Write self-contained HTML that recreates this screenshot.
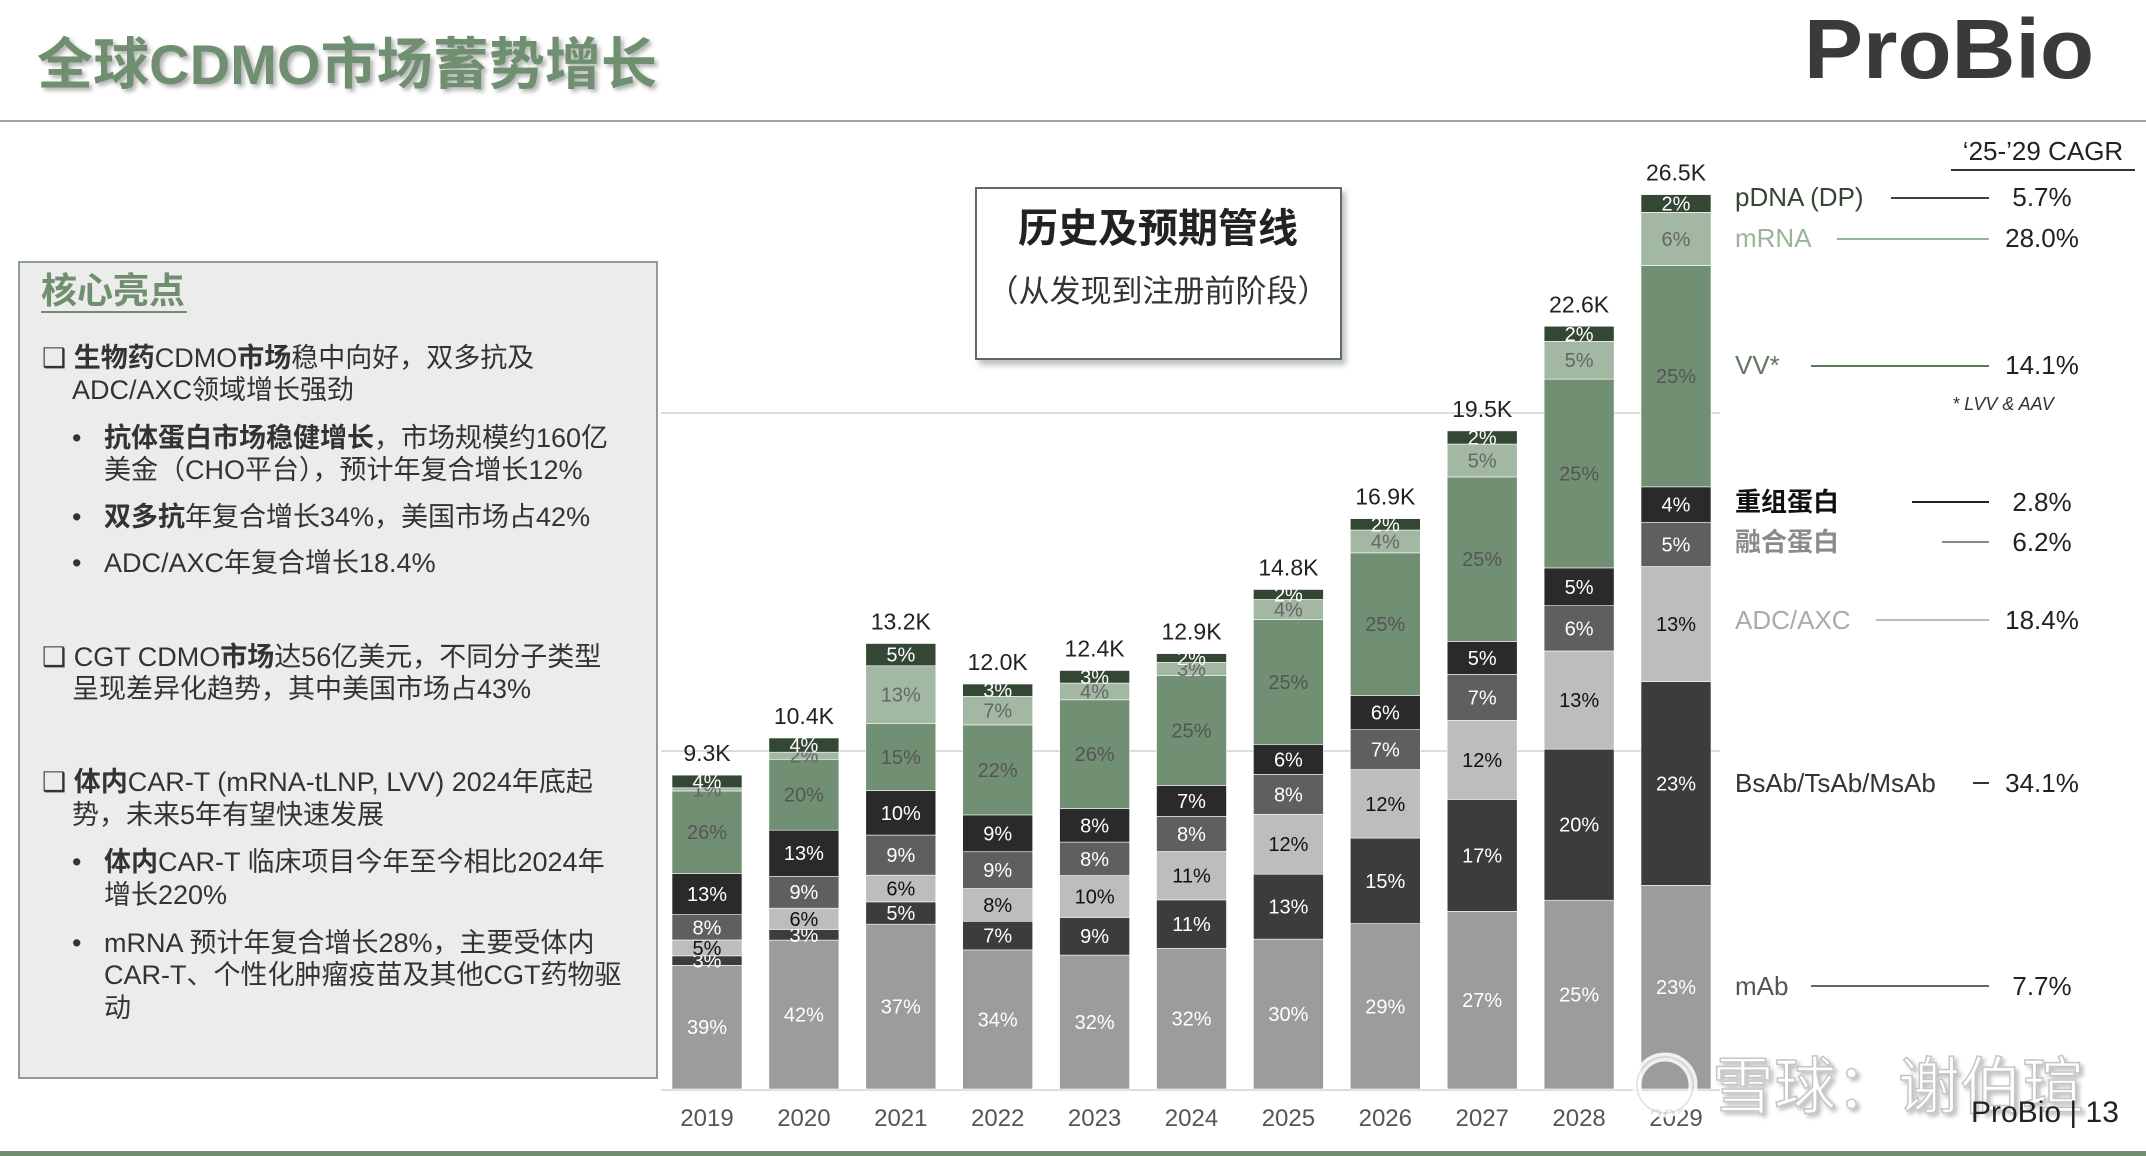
<!DOCTYPE html>
<html><head><meta charset="utf-8"><style>
html,body{margin:0;padding:0;background:#fff;}
svg{display:block;font-family:"Liberation Sans","Noto Sans CJK SC",sans-serif;}
</style></head><body>
<svg id="s" width="2146" height="1156" viewBox="0 0 2146 1156" xmlns="http://www.w3.org/2000/svg">
<defs>
<filter id="sh" x="-10%" y="-10%" width="130%" height="140%"><feDropShadow dx="4" dy="5" stdDeviation="3" flood-color="#000" flood-opacity="0.25"/></filter>
<filter id="tsh"><feDropShadow dx="3" dy="3" stdDeviation="2" flood-color="#000" flood-opacity="0.3"/></filter>
</defs>
<text x="37" y="84" font-size="56" font-weight="bold" fill="#6f8f6f" filter="url(#tsh)" textLength="620">全球CDMO市场蓄势增长</text>
<text x="1804" y="78" font-size="84" font-weight="bold" fill="#3a3a3a" textLength="290" lengthAdjust="spacingAndGlyphs">ProBio</text>
<line x1="0" y1="121" x2="2146" y2="121" stroke="#a0a0a0" stroke-width="2"/>
<rect x="0" y="1151" width="2146" height="5" fill="#6f8f6f"/>

<g>
<rect x="19" y="262" width="638" height="816" fill="#ececec" stroke="#8fa08f" stroke-width="2"/>
<text x="41" y="303" font-size="36" font-weight="bold" fill="#6f8f6f">核心亮点</text>
<line x1="41" y1="312" x2="187" y2="312" stroke="#6f8f6f" stroke-width="2"/>
<g font-size="27" fill="#333">
<text x="42" y="367">❑ <tspan font-weight="bold">生物药</tspan>CDMO<tspan font-weight="bold">市场</tspan>稳中向好，双多抗及</text>
<text x="72" y="399">ADC/AXC领域增长强劲</text>
<text x="72" y="447">•</text><text x="104" y="447"><tspan font-weight="bold">抗体蛋白市场稳健增长</tspan>，市场规模约160亿</text>
<text x="104" y="479">美金（CHO平台），预计年复合增长12%</text>
<text x="72" y="526">•</text><text x="104" y="526"><tspan font-weight="bold">双多抗</tspan>年复合增长34%，美国市场占42%</text>
<text x="72" y="572">•</text><text x="104" y="572">ADC/AXC年复合增长18.4%</text>
<text x="42" y="666">❑ CGT CDMO<tspan font-weight="bold">市场</tspan>达56亿美元，不同分子类型</text>
<text x="72" y="698">呈现差异化趋势，其中美国市场占43%</text>
<text x="42" y="791">❑ <tspan font-weight="bold">体内</tspan>CAR-T (mRNA-tLNP, LVV) 2024年底起</text>
<text x="72" y="824">势，未来5年有望快速发展</text>
<text x="72" y="871">•</text><text x="104" y="871"><tspan font-weight="bold">体内</tspan>CAR-T 临床项目今年至今相比2024年</text>
<text x="104" y="904">增长220%</text>
<text x="72" y="952">•</text><text x="104" y="952">mRNA 预计年复合增长28%，主要受体内</text>
<text x="104" y="984">CAR-T、个性化肿瘤疫苗及其他CGT药物驱</text>
<text x="104" y="1017">动</text>
</g>
</g>

<line x1="661" y1="413" x2="1720" y2="413" stroke="#ddd" stroke-width="2"/>
<line x1="661" y1="751" x2="1720" y2="751" stroke="#ddd" stroke-width="2"/>
<line x1="661" y1="1090" x2="1720" y2="1090" stroke="#ddd" stroke-width="2"/>

<g>
<rect x="976" y="188" width="365" height="171" fill="#fff" stroke="#5a6e5a" stroke-width="2" filter="url(#sh)"/>
<text x="1158" y="242" font-size="40" font-weight="bold" fill="#222" text-anchor="middle">历史及预期管线</text>
<text x="1158" y="302" font-size="31" fill="#333" text-anchor="middle">（从发现到注册前阶段）</text>
</g>

<g id="bars"></g>

<g font-size="26">
<text x="2043" y="160" text-anchor="middle" fill="#222">‘25-’29 CAGR</text>
<line x1="1951" y1="170" x2="2135" y2="170" stroke="#333" stroke-width="2"/>
<g><text x="1735" y="206" fill="#344634">pDNA (DP)</text><line x1="1891" y1="198" x2="1989" y2="198" stroke="#344634" stroke-width="2"/><text x="2042" y="206" text-anchor="middle" fill="#222">5.7%</text></g>
<g><text x="1735" y="247" fill="#9ab49a">mRNA</text><line x1="1837" y1="239" x2="1989" y2="239" stroke="#9ab49a" stroke-width="2"/><text x="2042" y="247" text-anchor="middle" fill="#222">28.0%</text></g>
<g><text x="1735" y="374" fill="#5d7a5d">VV*</text><line x1="1811" y1="366" x2="1989" y2="366" stroke="#5d7a5d" stroke-width="2"/><text x="2042" y="374" text-anchor="middle" fill="#222">14.1%</text></g>
<text x="2003" y="410" text-anchor="middle" font-size="18" font-style="italic" fill="#333">* LVV &amp; AAV</text>
<g><text x="1735" y="511" fill="#111" font-weight="bold">重组蛋白</text><line x1="1912" y1="502" x2="1989" y2="502" stroke="#222" stroke-width="2"/><text x="2042" y="511" text-anchor="middle" fill="#222">2.8%</text></g>
<g><text x="1735" y="551" fill="#8a8a8a" font-weight="bold">融合蛋白</text><line x1="1942" y1="542" x2="1989" y2="542" stroke="#888" stroke-width="2"/><text x="2042" y="551" text-anchor="middle" fill="#222">6.2%</text></g>
<g><text x="1735" y="629" fill="#aaa">ADC/AXC</text><line x1="1876" y1="620" x2="1989" y2="620" stroke="#bbb" stroke-width="2"/><text x="2042" y="629" text-anchor="middle" fill="#222">18.4%</text></g>
<g><text x="1735" y="792" fill="#333">BsAb/TsAb/MsAb</text><line x1="1973" y1="783" x2="1989" y2="783" stroke="#333" stroke-width="2"/><text x="2042" y="792" text-anchor="middle" fill="#222">34.1%</text></g>
<g><text x="1735" y="995" fill="#555">mAb</text><line x1="1811" y1="986" x2="1989" y2="986" stroke="#666" stroke-width="2"/><text x="2042" y="995" text-anchor="middle" fill="#222">7.7%</text></g>
</g>

<g opacity="0.85">
<circle cx="1665" cy="1085" r="28" fill="none" stroke="#fff" stroke-width="9"/>
<circle cx="1665" cy="1085" r="28" fill="none" stroke="#ccc" stroke-width="2" opacity="0.6"/>
<text x="1712" y="1108" font-size="62" fill="#fff" stroke="#bbb" stroke-width="1.5" filter="url(#tsh)">雪球：谢伯瑄</text>
</g>
<text x="1971" y="1122" font-size="30" fill="#222">ProBio | 13</text>
</svg>
<script>
const years = ['2019','2020','2021','2022','2023','2024','2025','2026','2027','2028','2029'];
const totals = [9.3,10.4,13.2,12.0,12.4,12.9,14.8,16.9,19.5,22.6,26.5];
const totalLabels = ['9.3K','10.4K','13.2K','12.0K','12.4K','12.9K','14.8K','16.9K','19.5K','22.6K','26.5K'];
const segNames = ['mAb','BsAb','ADC','fusion','recombinant','VV','mRNA','pDNA'];
const mAb = [39,42,37,34,32,32,30,29,27,25,23];
const bsAb = [3,3,5,7,9,11,13,15,17,20,23];
const adc = [5,6,6,8,10,11,12,12,12,13,13];
const fusion = [8,9,9,9,8,8,8,7,7,6,5];
const recombinant = [13,13,10,9,8,7,6,6,5,5,4];
const vv = [26,20,15,22,26,25,25,25,25,25,25];
const mrna = [1,2,13,7,4,3,4,4,5,5,6];
const pdna = [4,4,5,3,3,2,2,2,2,2,2];

const series = [mAb,bsAb,adc,fusion,recombinant,vv,mrna,pdna];
const fills = ['#9c9c9c','#3c3c3c','#bdbdbd','#5f5f5f','#2a2a2a','#718f72','#a3b8a3','#344634'];
const txt = ['#fff','#fff','#111','#fff','#fff','#555','#666','#fff'];
const NS='http://www.w3.org/2000/svg';
const g=document.getElementById('bars');
const baseY=1089, pxPerK=33.75, x0=672, pitch=96.9, bw=70;
const xS=i=>x0+i*pitch;
const yS=v=>baseY-v*pxPerK;
function mk(t,a){const e=document.createElementNS(NS,t);for(const k in a)e.setAttribute(k,a[k]);return e;}
years.forEach((yr,i)=>{
  const x=xS(i);
  const sum=series.reduce((s,a)=>s+a[i],0);
  let acc=0;
  series.forEach((arr,k)=>{
    const y1=yS(totals[i]*acc/sum), y2=yS(totals[i]*(acc+arr[i])/sum);
    acc+=arr[i];
    const r=mk('rect',{x:x,y:y2,width:bw,height:y1-y2,fill:fills[k],stroke:'#fff','stroke-width':0.6});
    
    
    g.appendChild(r);
    const t=mk('text',{x:x+bw/2,y:(y1+y2)/2+7,'text-anchor':'middle','font-size':20,fill:txt[k]});
    t.textContent=arr[i]+'%';
    
    
    g.appendChild(t);
  });
  const tl=mk('text',{x:x+bw/2,y:yS(totals[i])-14,'text-anchor':'middle','font-size':23,fill:'#222'});
  tl.textContent=totalLabels[i];
  
  
  g.appendChild(tl);
  const yl=mk('text',{x:x+bw/2,y:1126,'text-anchor':'middle','font-size':24,fill:'#555'});
  yl.textContent=yr;
  
  
  g.appendChild(yl);
});
</script>
</body></html>
